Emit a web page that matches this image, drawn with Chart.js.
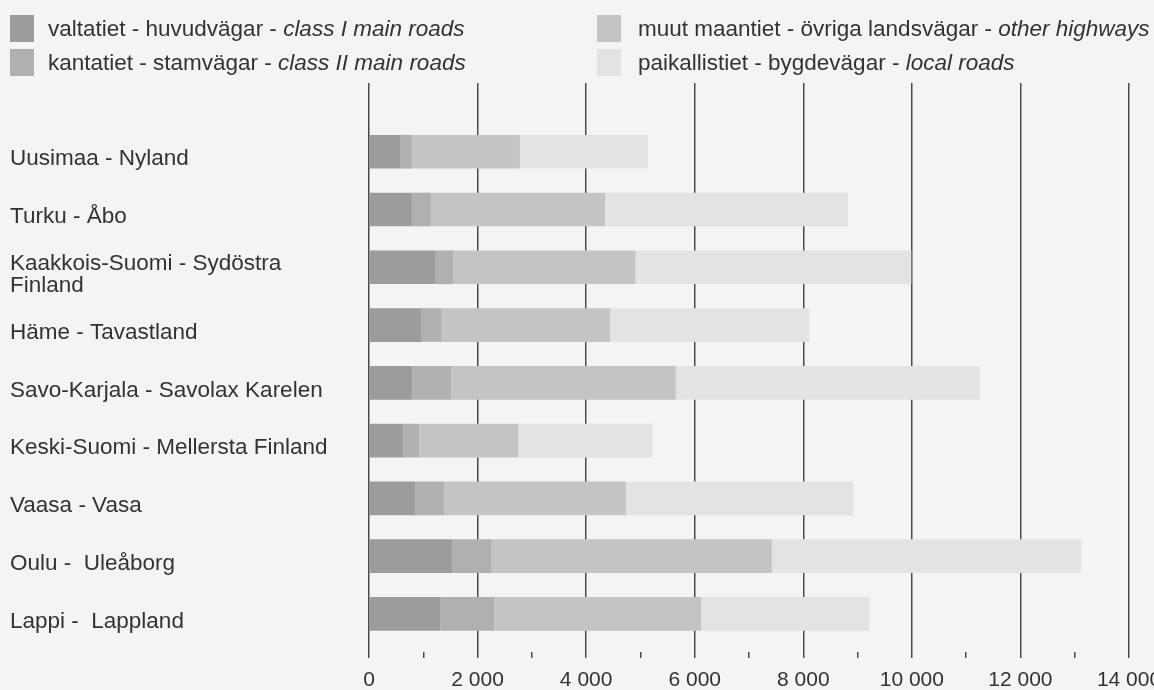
<!DOCTYPE html>
<html>
<head>
<meta charset="utf-8">
<script src="https://cdn.jsdelivr.net/npm/chart.js@4/dist/chart.umd.min.js"></script>
<style>
  html, body { margin: 0; padding: 0; background: #f4f4f4; overflow: hidden; }
  #wrap { position: relative; width: 1154px; height: 690px; }
  #chart { position: absolute; left: 0; top: 0; }
  #legend { position: absolute; left: 0; top: 0; width: 1154px; height: 80px;
            font: 22.5px "Liberation Sans", Arial, sans-serif; color: #333; }
  .item { position: absolute; height: 27px; line-height: 27px; white-space: nowrap; }
  .item .box { position: absolute; left: 0; top: 0; width: 24px; height: 27px; }
  .item .txt { position: absolute; top: 0; }
</style>
</head>
<body>
<div id="wrap">
  <canvas id="chart" width="1154" height="690"></canvas>
  <div id="legend"></div>
</div>
<script>
// alueet (ylhäältä alas)
const regions = [
  'Uusimaa - Nyland',
  'Turku - Åbo',
  ['Kaakkois-Suomi - Sydöstra', 'Finland'],
  'Häme - Tavastland',
  'Savo-Karjala - Savolax Karelen',
  'Keski-Suomi - Mellersta Finland',
  'Vaasa - Vasa',
  'Oulu -  Uleåborg',
  'Lappi -  Lappland'
];

// tiepituudet, km
const valtatiet     = [570, 790, 1230, 970, 800, 630, 850, 1530, 1310];
const kantatiet     = [220, 350, 320, 370, 720, 300, 530, 730, 1000];
const muutMaantiet  = [1990, 3210, 3360, 3100, 4130, 1820, 3350, 5160, 3810];
const paikallistiet = [2360, 4480, 5080, 3670, 5600, 2470, 4190, 5700, 3100];

const seriesNames = [
  'valtatiet - huvudvägar - ',
  'kantatiet - stamvägar - ',
  'muut maantiet - övriga landsvägar - ',
  'paikallistiet - bygdevägar - '
];
const seriesEnglish = ['class I main roads', 'class II main roads', 'other highways', 'local roads'];
const seriesColors = ['#9c9c9c', '#b0b0b0', '#c4c4c4', '#e3e3e3'];

const FONT = '"Liberation Sans", Arial, sans-serif';

function fmt(v) {
  return String(v).replace(/\B(?=(\d{3})+(?!\d))/g, ' ');
}

// legenda HTML:nä, koska osa tekstistä on kursiivilla
const legendPos = [
  { left: 10, top: 15, txt: 38 },
  { left: 10, top: 49, txt: 38 },
  { left: 597, top: 15, txt: 41 },
  { left: 597, top: 49, txt: 41 }
];
const legend = document.getElementById('legend');
seriesNames.forEach((name, i) => {
  const p = legendPos[i];
  const el = document.createElement('div');
  el.className = 'item';
  el.style.left = p.left + 'px';
  el.style.top = p.top + 'px';
  el.innerHTML = '<span class="box" style="background:' + seriesColors[i] + '"></span>' +
    '<span class="txt" style="left:' + p.txt + 'px">' + name + '<i>' + seriesEnglish[i] + '</i></span>';
  legend.appendChild(el);
});

const allSeries = [valtatiet, kantatiet, muutMaantiet, paikallistiet];
const datasets = allSeries.map((values, s) => ({
  label: seriesNames[s] + seriesEnglish[s],
  data: values.map((v, i) => ({ x: v, y: i })),
  backgroundColor: seriesColors[s],
  borderWidth: 0,
  barPercentage: 0.583,
  categoryPercentage: 1
}));

const ctx = document.getElementById('chart').getContext('2d');
new Chart(ctx, {
  type: 'bar',
  data: { datasets: datasets },
  options: {
    indexAxis: 'y',
    responsive: false,
    animation: false,
    layout: { padding: { left: 10, top: 83, right: 25, bottom: 0 } },
    plugins: { legend: { display: false }, tooltip: { enabled: false } },
    scales: {
      x: {
        type: 'linear',
        stacked: true,
        min: 0,
        max: 14000,
        ticks: {
          stepSize: 1000,
          autoSkip: false,
          maxRotation: 0,
          padding: 10,
          color: '#333',
          font: { size: 21, family: FONT },
          callback: v => (v % 2000 === 0 ? fmt(v) : '')
        },
        grid: {
          color: c => (c.tick && c.tick.value % 2000 === 0 ? '#4a4a4a' : 'rgba(0,0,0,0)'),
          tickColor: '#4a4a4a',
          tickLength: 6,
          lineWidth: 1.5
        },
        border: { display: false },
        afterFit: s => { s.paddingLeft = 0; s.paddingRight = 0; s.height = 38; }
      },
      y: {
        type: 'linear',
        stacked: true,
        reverse: true,
        offset: false,
        min: -1.19,
        max: 8.66,
        afterBuildTicks: s => { s.ticks = regions.map((r, i) => ({ value: i + 0.13 })); },
        ticks: {
          crossAlign: 'far',
          autoSkip: false,
          padding: 0,
          color: '#333',
          font: { size: 22.5, family: FONT, lineHeight: 1.0 },
          callback: v => regions[Math.round(v)]
        },
        grid: { display: false },
        border: { display: false },
        afterFit: s => { s.width = 359; }
      }
    }
  }
});
</script>
</body>
</html>
